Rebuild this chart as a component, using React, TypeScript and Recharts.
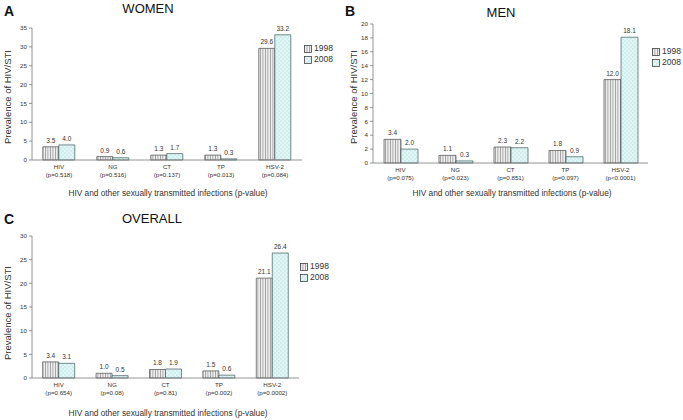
import React from "react"
import { BarChart, Bar, XAxis, YAxis, LabelList } from "recharts"

const CATEGORIES = ["HIV", "NG", "CT", "TP", "HSV-2"]
const SEP_TICKS = [0, 1, 2, 3, 4, 5]

const WOMEN_1998 = [3.5, 0.9, 1.3, 1.3, 29.6]
const WOMEN_2008 = [4.0, 0.6, 1.7, 0.3, 33.2]
const WOMEN_P = ["p=0.518", "p=0.516", "p=0.137", "p=0.013", "p=0.084"]
const WOMEN_TICKS = [0, 5, 10, 15, 20, 25, 30, 35]

const MEN_1998 = [3.4, 1.1, 2.3, 1.8, 12.0]
const MEN_2008 = [2.0, 0.3, 2.2, 0.9, 18.1]
const MEN_P = ["p=0.075", "p=0.023", "p=0.851", "p=0.097", "p<0.0001"]
const MEN_TICKS = [0, 2, 4, 6, 8, 10, 12, 14, 16, 18, 20]

const OVERALL_1998 = [3.4, 1.0, 1.8, 1.5, 21.1]
const OVERALL_2008 = [3.1, 0.5, 1.9, 0.6, 26.4]
const OVERALL_P = ["p=0.654", "p=0.08", "p=0.81", "p=0.002", "p=0.0002"]
const OVERALL_TICKS = [0, 5, 10, 15, 20, 25, 30]

const FONT = "Arial, 'Liberation Sans', sans-serif"
const AXIS = "#7a7a7a"
const TEXT = "#333"

const buildData = (a: number[], b: number[], p: string[]) =>
  CATEGORIES.map((cat, i) => ({ cat, y1998: a[i], y2008: b[i], p: p[i] }))

const CatTick = ({ x, y, payload, pvals }: any) => (
  <g transform={`translate(${x},${y})`}>
    <text textAnchor="middle" fontSize={6.2} fill={TEXT} fontFamily={FONT}>
      <tspan x={0} dy={1}>{payload.value}</tspan>
      <tspan x={0} dy={8}>({pvals[payload.index]})</tspan>
    </text>
  </g>
)

const fmt = (v: any) => Number(v).toFixed(1)

function Patterns() {
  return (
    <svg width={0} height={0} style={{ position: "absolute" }}>
      <defs>
        <pattern id="pat1998" width={2.5} height={4} patternUnits="userSpaceOnUse">
          <rect width={2.5} height={4} fill="#ededed" />
          <rect width={0.8} height={4} fill="#9a9a9a" />
        </pattern>
        <pattern id="pat2008" width={4} height={4} patternUnits="userSpaceOnUse">
          <rect width={4} height={4} fill="#def6f6" />
          <rect x={0.5} y={0.5} width={0.9} height={0.9} fill="#a9cccc" />
          <rect x={2.5} y={2.5} width={0.9} height={0.9} fill="#a9cccc" />
        </pattern>
      </defs>
    </svg>
  )
}

function LegendBox({ left, top }: { left: number; top: number }) {
  const item = (fill: string, label: string) => (
    <div style={{ display: "flex", alignItems: "center", height: 11 }}>
      <svg width={8} height={8} style={{ marginRight: 2 }}>
        <rect x={0.5} y={0.5} width={7} height={7} fill={fill} stroke="#444" strokeWidth={0.8} />
      </svg>
      <span>{label}</span>
    </div>
  )
  return (
    <div style={{ position: "absolute", left, top, fontSize: 8.5, color: TEXT, fontFamily: FONT, lineHeight: "11px" }}>
      {item("url(#pat1998)", "1998")}
      {item("url(#pat2008)", "2008")}
    </div>
  )
}

interface PanelProps {
  left: number
  top: number
  width: number
  height: number
  plot: { l: number; r: number; t: number; b: number }
  letter: string
  letterPos: [number, number]
  title: string
  titlePos: [number, number]
  yLabelPos: [number, number]
  xLabelPos: [number, number]
  legendPos: [number, number]
  data: any[]
  pvals: string[]
  yTicks: number[]
}

function Panel(p: PanelProps) {
  const yW = 20
  const xH = 24
  const yMax = p.yTicks[p.yTicks.length - 1]
  return (
    <div style={{ position: "absolute", left: p.left, top: p.top, width: p.width, height: p.height, fontFamily: FONT }}>
      <BarChart
        width={p.width}
        height={p.height}
        data={p.data}
        barCategoryGap="20%"
        barGap={0}
        margin={{ top: p.plot.t, right: p.width - p.plot.r, left: p.plot.l - yW, bottom: p.height - p.plot.b - xH }}
      >
        <XAxis
          xAxisId="sep"
          type="number"
          domain={[0, 5]}
          ticks={SEP_TICKS}
          tick={false}
          axisLine={false}
          tickLine={{ stroke: AXIS, strokeWidth: 0.8 }}
          tickSize={3}
          height={0}
        />
        <XAxis
          dataKey="cat"
          height={xH}
          interval={0}
          tickLine={false}
          axisLine={{ stroke: AXIS, strokeWidth: 0.8 }}
          tick={<CatTick pvals={p.pvals} />}
        />
        <YAxis
          width={yW}
          domain={[0, yMax]}
          ticks={p.yTicks}
          interval={0}
          tickSize={3}
          tickMargin={2}
          axisLine={{ stroke: AXIS, strokeWidth: 0.8 }}
          tickLine={{ stroke: AXIS, strokeWidth: 0.8 }}
          tick={{ fontSize: 6.2, fill: TEXT, fontFamily: FONT }}
        />
        <Bar dataKey="y1998" fill="url(#pat1998)" stroke="#4a4a4a" strokeWidth={0.7} isAnimationActive={false}>
          <LabelList dataKey="y1998" position="top" offset={4} formatter={fmt} style={{ fontSize: 6.5, fill: TEXT, fontFamily: FONT }} />
        </Bar>
        <Bar dataKey="y2008" fill="url(#pat2008)" stroke="#3d5a5a" strokeWidth={0.7} isAnimationActive={false}>
          <LabelList dataKey="y2008" position="top" offset={4} formatter={fmt} style={{ fontSize: 6.5, fill: TEXT, fontFamily: FONT }} />
        </Bar>
      </BarChart>
      <div style={{ position: "absolute", left: p.letterPos[0], top: p.letterPos[1], fontSize: 14, fontWeight: "bold", color: "#111", lineHeight: "14px" }}>
        {p.letter}
      </div>
      <div style={{ position: "absolute", left: p.titlePos[0] - 60, width: 120, top: p.titlePos[1], textAlign: "center", fontSize: 13, color: "#111", lineHeight: "14px" }}>
        {p.title}
      </div>
      <div
        style={{
          position: "absolute",
          left: p.yLabelPos[0] - 60,
          top: p.yLabelPos[1] - 6,
          width: 120,
          height: 12,
          lineHeight: "12px",
          textAlign: "center",
          fontSize: 9.5,
          color: TEXT,
          transform: "rotate(-90deg)",
          whiteSpace: "nowrap",
        }}
      >
        Prevalence of HIV/STI
      </div>
      <div
        style={{
          position: "absolute",
          left: p.xLabelPos[0] - 150,
          top: p.xLabelPos[1] - 6,
          width: 300,
          lineHeight: "12px",
          textAlign: "center",
          fontSize: 8.3,
          color: TEXT,
          whiteSpace: "nowrap",
        }}
      >
        HIV and other sexually transmitted infections (p-value)
      </div>
      <LegendBox left={p.legendPos[0]} top={p.legendPos[1]} />
    </div>
  )
}

export default function App() {
  return (
    <div style={{ position: "absolute", left: 0, top: 0, width: 683, height: 420, background: "#fff", overflow: "hidden" }}>
      <Patterns />
      <Panel
        left={0}
        top={0}
        width={340}
        height={210}
        plot={{ l: 32, r: 302, t: 28, b: 160 }}
        letter="A"
        letterPos={[4, 4]}
        title="WOMEN"
        titlePos={[148, 2]}
        yLabelPos={[8, 97]}
        xLabelPos={[168, 193]}
        legendPos={[304, 43]}
        data={buildData(WOMEN_1998, WOMEN_2008, WOMEN_P)}
        pvals={WOMEN_P}
        yTicks={WOMEN_TICKS}
      />
      <Panel
        left={340}
        top={0}
        width={343}
        height={210}
        plot={{ l: 33, r: 308, t: 24, b: 163 }}
        letter="B"
        letterPos={[5, 4]}
        title="MEN"
        titlePos={[161, 6]}
        yLabelPos={[14, 97]}
        xLabelPos={[172, 193]}
        legendPos={[312, 46]}
        data={buildData(MEN_1998, MEN_2008, MEN_P)}
        pvals={MEN_P}
        yTicks={MEN_TICKS}
      />
      <Panel
        left={0}
        top={210}
        width={340}
        height={210}
        plot={{ l: 32, r: 299, t: 26, b: 168 }}
        letter="C"
        letterPos={[4, 2]}
        title="OVERALL"
        titlePos={[152, 2]}
        yLabelPos={[8, 103]}
        xLabelPos={[168, 203]}
        legendPos={[300, 51]}
        data={buildData(OVERALL_1998, OVERALL_2008, OVERALL_P)}
        pvals={OVERALL_P}
        yTicks={OVERALL_TICKS}
      />
    </div>
  )
}
